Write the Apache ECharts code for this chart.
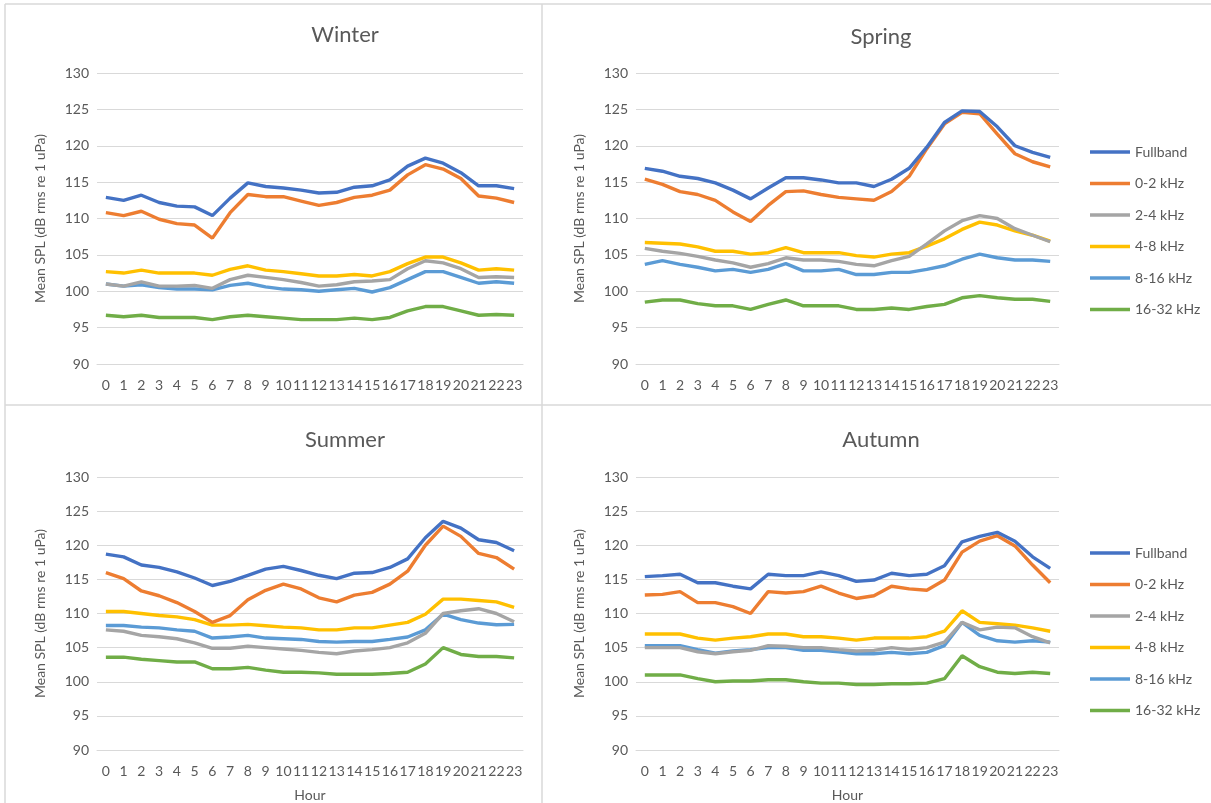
<!DOCTYPE html>
<html>
<head>
<meta charset="utf-8">
<script src="https://cdn.jsdelivr.net/npm/echarts@6/dist/echarts.min.js"></script>
<style>
  html, body { margin: 0; padding: 0; background: #ffffff; }
  #chart { width: 1211px; height: 803px; }
</style>
</head>
<body>
<div id="chart"></div>
<script>
// Hour of day (category axis)
const hours = ['0','1','2','3','4','5','6','7','8','9','10','11','12','13','14','15','16','17','18','19','20','21','22','23'];

const bandNames = ['Fullband', '0-2 kHz', '2-4 kHz', '4-8 kHz', '8-16 kHz', '16-32 kHz'];
const bandColors = ['#4472C4', '#ED7D31', '#A5A5A5', '#FFC000', '#5B9BD5', '#70AD47'];

// Winter, mean SPL per hour
const winterFullband = [112.9,112.5,113.2,112.2,111.7,111.6,110.4,112.8,114.9,114.4,114.2,113.9,113.5,113.6,114.3,114.5,115.3,117.2,118.3,117.6,116.3,114.5,114.5,114.1];
const winter0to2    = [110.8,110.4,111.0,109.9,109.3,109.1,107.3,110.8,113.3,113.0,113.0,112.4,111.8,112.2,112.9,113.2,113.9,116.0,117.4,116.8,115.5,113.1,112.8,112.2];
const winter2to4    = [101.0,100.7,101.3,100.7,100.7,100.8,100.4,101.6,102.2,101.9,101.6,101.2,100.7,100.9,101.3,101.4,101.6,103.1,104.2,103.9,103.1,101.9,102.0,101.9];
const winter4to8    = [102.7,102.5,102.9,102.5,102.5,102.5,102.2,103.0,103.5,102.9,102.7,102.4,102.1,102.1,102.3,102.1,102.7,103.8,104.7,104.7,103.9,102.9,103.1,102.9];
const winter8to16   = [101.0,100.7,100.9,100.5,100.3,100.3,100.2,100.8,101.1,100.6,100.3,100.2,100.0,100.2,100.4,99.9,100.5,101.6,102.7,102.7,101.9,101.1,101.3,101.1];
const winter16to32  = [96.7,96.5,96.7,96.4,96.4,96.4,96.1,96.5,96.7,96.5,96.3,96.1,96.1,96.1,96.3,96.1,96.4,97.3,97.9,97.9,97.3,96.7,96.8,96.7];

// Spring
const springFullband = [116.9,116.5,115.8,115.5,114.9,113.9,112.7,114.2,115.6,115.6,115.3,114.9,114.9,114.4,115.4,116.9,119.8,123.2,124.8,124.7,122.6,120.0,119.1,118.4];
const spring0to2    = [115.4,114.7,113.7,113.3,112.5,110.9,109.6,111.8,113.7,113.8,113.3,112.9,112.7,112.5,113.7,115.8,119.6,123.0,124.6,124.4,121.6,118.9,117.8,117.1];
const spring2to4    = [105.9,105.5,105.2,104.8,104.3,103.9,103.3,103.8,104.6,104.3,104.3,104.1,103.7,103.5,104.2,104.8,106.5,108.3,109.7,110.4,110.0,108.6,107.7,106.8];
const spring4to8    = [106.7,106.6,106.5,106.1,105.5,105.5,105.1,105.3,106.0,105.3,105.3,105.3,104.9,104.7,105.1,105.3,106.2,107.2,108.5,109.5,109.1,108.3,107.7,106.9];
const spring8to16   = [103.7,104.2,103.7,103.3,102.8,103.0,102.6,103.0,103.8,102.8,102.8,103.0,102.3,102.3,102.6,102.6,103.0,103.5,104.4,105.1,104.6,104.3,104.3,104.1];
const spring16to32  = [98.5,98.8,98.8,98.3,98.0,98.0,97.5,98.2,98.8,98.0,98.0,98.0,97.5,97.5,97.7,97.5,97.9,98.2,99.1,99.4,99.1,98.9,98.9,98.6];

// Summer
const summerFullband = [118.7,118.3,117.1,116.75,116.1,115.2,114.1,114.7,115.6,116.5,116.9,116.3,115.6,115.1,115.9,116.0,116.75,118.0,121.1,123.5,122.5,120.8,120.4,119.2];
const summer0to2    = [116.0,115.1,113.3,112.6,111.6,110.3,108.7,109.7,112.0,113.4,114.3,113.6,112.3,111.7,112.7,113.1,114.3,116.2,120.0,122.8,121.3,118.8,118.2,116.5];
const summer2to4    = [107.6,107.4,106.8,106.6,106.3,105.7,104.9,104.9,105.2,105.0,104.8,104.6,104.3,104.1,104.5,104.7,105.0,105.7,107.1,110.0,110.4,110.7,110.0,108.8];
const summer4to8    = [110.3,110.3,110.0,109.7,109.5,109.1,108.3,108.3,108.4,108.2,108.0,107.9,107.6,107.6,107.9,107.9,108.3,108.7,109.9,112.1,112.1,111.9,111.7,110.9];
const summer8to16   = [108.25,108.25,108.0,107.9,107.6,107.4,106.4,106.55,106.8,106.4,106.3,106.2,105.9,105.8,105.9,105.9,106.2,106.55,107.6,109.9,109.1,108.6,108.35,108.4];
const summer16to32  = [103.6,103.6,103.3,103.1,102.9,102.9,101.9,101.9,102.1,101.7,101.4,101.4,101.3,101.1,101.1,101.1,101.2,101.4,102.6,105.0,104.0,103.7,103.7,103.5];

// Autumn
const autumnFullband = [115.4,115.55,115.75,114.5,114.5,114.0,113.6,115.75,115.55,115.55,116.1,115.55,114.7,114.9,115.9,115.55,115.75,117.0,120.5,121.3,121.9,120.6,118.3,116.6];
const autumn0to2    = [112.7,112.8,113.2,111.6,111.6,111.0,110.0,113.2,113.0,113.2,114.0,113.0,112.2,112.6,114.0,113.6,113.4,114.9,119.0,120.6,121.4,119.9,117.1,114.5];
const autumn2to4    = [105.0,105.0,105.0,104.4,104.1,104.4,104.6,105.3,105.2,105.0,105.0,104.7,104.5,104.6,105.0,104.7,105.0,105.8,108.7,107.6,108.0,107.9,106.6,105.7];
const autumn4to8    = [107.0,107.0,107.0,106.4,106.1,106.4,106.6,107.0,107.0,106.6,106.6,106.4,106.1,106.4,106.4,106.4,106.6,107.4,110.4,108.7,108.5,108.3,107.9,107.4];
const autumn8to16   = [105.3,105.3,105.3,104.7,104.2,104.5,104.7,105.0,105.0,104.6,104.6,104.4,104.1,104.1,104.3,104.1,104.3,105.3,108.7,106.8,106.0,105.8,106.0,105.8];
const autumn16to32  = [101.0,101.0,101.0,100.45,100.0,100.1,100.1,100.3,100.3,100.0,99.8,99.8,99.6,99.6,99.7,99.7,99.8,100.45,103.8,102.2,101.4,101.2,101.4,101.2];

const yTicks = { min: 90, max: 130, interval: 5 };

const seasons = [
  { title: 'Winter', bands: [winterFullband, winter0to2, winter2to4, winter4to8, winter8to16, winter16to32] },
  { title: 'Spring', bands: [springFullband, spring0to2, spring2to4, spring4to8, spring8to16, spring16to32] },
  { title: 'Summer', bands: [summerFullband, summer0to2, summer2to4, summer4to8, summer8to16, summer16to32] },
  { title: 'Autumn', bands: [autumnFullband, autumn0to2, autumn2to4, autumn4to8, autumn8to16, autumn16to32] }
];

// Panel layout: plot area rectangles in pixels
const W = 1211, H = 803;
const panels = [
  { left: 97,  right: 523,  top: 73,  bottom: 364, titleX: 340, titleY: 30,  showHour: false },
  { left: 636, right: 1059, top: 73,  bottom: 364, titleX: 876, titleY: 32,  showHour: false },
  { left: 97,  right: 523,  top: 477, bottom: 753, titleX: 340, titleY: 435, showHour: true },
  { left: 636, right: 1059, top: 477, bottom: 753, titleX: 876, titleY: 435, showHour: true }
];

const FONT = 'Lato';
const TEXT = '#595959';
const GRID = '#D9D9D9';

const grid = [], xAxis = [], yAxis = [], series = [], title = [];
panels.forEach((p, i) => {
  grid.push({ left: p.left, width: p.right - p.left, top: p.top, height: p.bottom - p.top, containLabel: false });
  xAxis.push({
    type: 'category', gridIndex: i, data: hours, boundaryGap: true,
    name: p.showHour ? 'Hour' : '', nameLocation: 'middle', nameGap: 38,
    nameTextStyle: { color: TEXT, fontFamily: FONT, fontSize: 14, verticalAlign: 'top' },
    axisLine: { lineStyle: { color: GRID, width: 1 } },
    axisTick: { show: false },
    axisLabel: { interval: 0, color: TEXT, fontFamily: FONT, fontSize: 14, margin: 14 }
  });
  yAxis.push({
    type: 'value', gridIndex: i, min: yTicks.min, max: yTicks.max, interval: yTicks.interval,
    name: 'Mean SPL (dB rms re 1 uPa)', nameLocation: 'middle', nameGap: 50,
    nameTextStyle: { color: TEXT, fontFamily: FONT, fontSize: 14 },
    axisLine: { show: false }, axisTick: { show: false },
    splitLine: { lineStyle: { color: GRID, width: 1 } },
    axisLabel: { color: TEXT, fontFamily: FONT, fontSize: 14, margin: 8 }
  });
  title.push({
    text: seasons[i].title, left: p.titleX, top: p.titleY, textAlign: 'center', textVerticalAlign: 'middle',
    textStyle: { color: TEXT, fontFamily: FONT, fontSize: 22, fontWeight: 'normal' }
  });
  seasons[i].bands.forEach((vals, b) => {
    series.push({
      type: 'line', name: bandNames[b], xAxisIndex: i, yAxisIndex: i,
      data: vals, symbol: 'none', smooth: false,
      lineStyle: { color: bandColors[b], width: 3.4 },
      itemStyle: { color: bandColors[b] },
      z: 10 - b
    });
  });
});

const legendBase = {
  orient: 'vertical', left: 1085, icon: 'rect', itemWidth: 40, itemHeight: 3.5,
  itemGap: 17.5, data: bandNames, selectedMode: false,
  textStyle: { color: TEXT, fontFamily: FONT, fontSize: 14 }
};

// Panel frame lines
const frame = [
  [5, 4, W, 4], [5, 4, 5, H], [542, 4, 542, H], [5, 405, W, 405]
].map(s => ({
  type: 'line', shape: { x1: s[0], y1: s[1], x2: s[2], y2: s[3] },
  style: { stroke: GRID, lineWidth: 1.5 }, silent: true
}));

const chart = echarts.init(document.getElementById('chart'), null, { renderer: 'canvas' });
chart.setOption({
  backgroundColor: '#ffffff',
  animation: false,
  title: title,
  grid: grid,
  xAxis: xAxis,
  yAxis: yAxis,
  legend: [
    Object.assign({}, legendBase, { top: 140 }),
    Object.assign({}, legendBase, { top: 541 })
  ],
  graphic: frame,
  series: series
});
</script>
</body>
</html>
